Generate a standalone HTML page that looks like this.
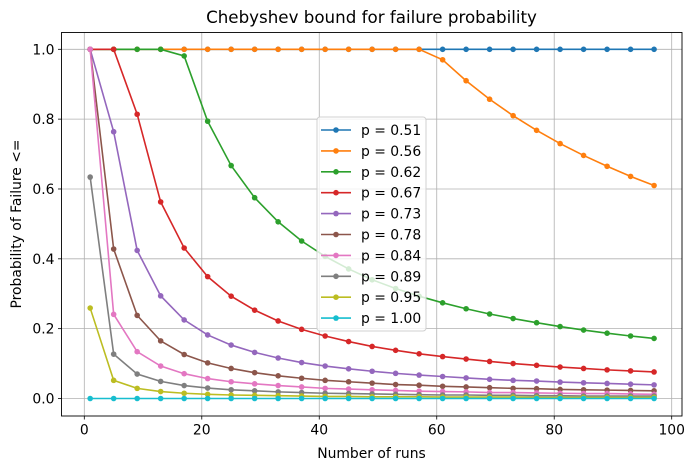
<!DOCTYPE html>
<html><head><meta charset="utf-8"><style>
body{margin:0;background:#fff;}
svg text{font-family:"DejaVu Sans","Liberation Sans",sans-serif;fill:#000;}
</style></head><body>
<svg id="chart" width="693" height="470" xmlns="http://www.w3.org/2000/svg"></svg>
<script>
const runs=[1,5,9,13,17,21,25,29,33,37,41,45,49,53,57,61,65,69,73,77,81,85,89,93,97];
const labels=["p = 0.51","p = 0.56","p = 0.62","p = 0.67","p = 0.73","p = 0.78","p = 0.84","p = 0.89","p = 0.95","p = 1.00"];
const colors=["#1f77b4","#ff7f0e","#2ca02c","#d62728","#9467bd","#8c564b","#e377c2","#7f7f7f","#bcbd22","#17becf"];
const s051=[1,1,1,1,1,1,1,1,1,1,1,1,1,1,1,1,1,1,1,1,1,1,1,1,1];
const s056=[1,1,1,1,1,1,1,1,1,1,1,1,1,1,1,0.970,0.910,0.857,0.810,0.768,0.730,0.696,0.665,0.636,0.610];
const s062=[1,1,1,1,0.981,0.794,0.667,0.575,0.506,0.451,0.407,0.371,0.340,0.315,0.293,0.274,0.257,0.242,0.229,0.217,0.206,0.196,0.187,0.179,0.172];
const s067=[1,1,0.814,0.563,0.431,0.349,0.293,0.253,0.222,0.198,0.179,0.163,0.149,0.138,0.128,0.120,0.113,0.106,0.100,0.095,0.090,0.086,0.082,0.079,0.076];
const s073=[1,0.764,0.424,0.294,0.225,0.182,0.153,0.132,0.116,0.103,0.093,0.085,0.078,0.072,0.067,0.063,0.059,0.055,0.052,0.050,0.047,0.045,0.043,0.041,0.039];
const s078=[1,0.428,0.238,0.165,0.126,0.102,0.086,0.074,0.065,0.058,0.052,0.048,0.044,0.040,0.038,0.035,0.033,0.031,0.029,0.028,0.026,0.025,0.024,0.023,0.022];
const s084=[1,0.241,0.134,0.093,0.071,0.057,0.048,0.042,0.037,0.033,0.029,0.027,0.025,0.023,0.021,0.020,0.019,0.017,0.017,0.016,0.015,0.014,0.014,0.013,0.012];
const s089=[0.634,0.127,0.070,0.049,0.037,0.030,0.025,0.022,0.019,0.017,0.015,0.014,0.013,0.012,0.011,0.010,0.010,0.009,0.009,0.008,0.008,0.007,0.007,0.007,0.007];
const s095=[0.259,0.052,0.029,0.020,0.015,0.012,0.010,0.009,0.008,0.007,0.006,0.006,0.005,0.005,0.005,0.004,0.004,0.004,0.004,0.003,0.003,0.003,0.003,0.003,0.003];
const s100=[0,0,0,0,0,0,0,0,0,0,0,0,0,0,0,0,0,0,0,0,0,0,0,0,0];
const series=[s051,s056,s062,s067,s073,s078,s084,s089,s095,s100];
const xTicks=[0,20,40,60,80,100];
const yTicks=[0.0,0.2,0.4,0.6,0.8,1.0];

const NS="http://www.w3.org/2000/svg";
const svg=document.getElementById('chart');
const L=61.5,R=682,T=32.5,B=416;
const x=v=>84.3+v*5.874;
const y=v=>398.5-v*349.2;
function mk(tag,attrs,parent){const e=document.createElementNS(NS,tag);for(const k in attrs)e.setAttribute(k,attrs[k]);(parent||svg).appendChild(e);return e;}

xTicks.forEach(t=>{
  const g=mk('line',{x1:x(t),x2:x(t),y1:T,y2:B,stroke:'#b0b0b0','stroke-width':0.8});
  
  
  const tk=mk('line',{x1:x(t),x2:x(t),y1:B,y2:B+3.5,stroke:'#000','stroke-width':0.8});
  
  
  const tx=mk('text',{x:x(t),y:B+18.5,'text-anchor':'middle','font-size':13.9});
  tx.textContent=t;
  
  
});
yTicks.forEach(t=>{
  const g=mk('line',{x1:L,x2:R,y1:y(t),y2:y(t),stroke:'#b0b0b0','stroke-width':0.8});
  
  
  const tk=mk('line',{x1:L-3.5,x2:L,y1:y(t),y2:y(t),stroke:'#000','stroke-width':0.8});
  
  
  const tx=mk('text',{x:L-7,y:y(t)+5,'text-anchor':'end','font-size':13.9});
  tx.textContent=t.toFixed(1);
  
  
});

series.forEach((s,i)=>{
  const pts=s.map((v,j)=>x(runs[j]).toFixed(2)+','+y(v).toFixed(2)).join(' ');
  const pl=mk('polyline',{points:pts,fill:'none',stroke:colors[i],'stroke-width':1.6});
  
  
  s.forEach((v,j)=>{
    const c=mk('circle',{cx:x(runs[j]),cy:y(v),r:2.8,fill:colors[i]});
    
    
  });
});

const frame=mk('rect',{x:L,y:T,width:R-L,height:B-T,fill:'none',stroke:'#000','stroke-width':0.9});



const lg=mk('g',{});


mk('rect',{x:317,y:117,width:109,height:214,rx:3,fill:'rgba(255,255,255,0.8)',stroke:'#d0d0d0','stroke-width':1},lg);
labels.forEach((lab,i)=>{
  const yy=130+i*20.9;
  const e=mk('g',{},lg);
  
  
  mk('line',{x1:321,x2:351,y1:yy,y2:yy,stroke:colors[i],'stroke-width':1.6},e);
  mk('circle',{cx:336,cy:yy,r:2.8,fill:colors[i]},e);
  const t=mk('text',{x:361,y:yy+5,'font-size':13.9},e);
  t.textContent=lab;
});

const title=mk('text',{x:371.5,y:23,'text-anchor':'middle','font-size':16.7});
title.textContent='Chebyshev bound for failure probability';


const xl=mk('text',{x:371.5,y:458,'text-anchor':'middle','font-size':13.9});
xl.textContent='Number of runs';


const yl=mk('text',{x:0,y:0,'text-anchor':'middle','font-size':13.9,transform:'translate(21,224) rotate(-90)'});
yl.textContent='Probability of Failure <=';


</script>
</body></html>
